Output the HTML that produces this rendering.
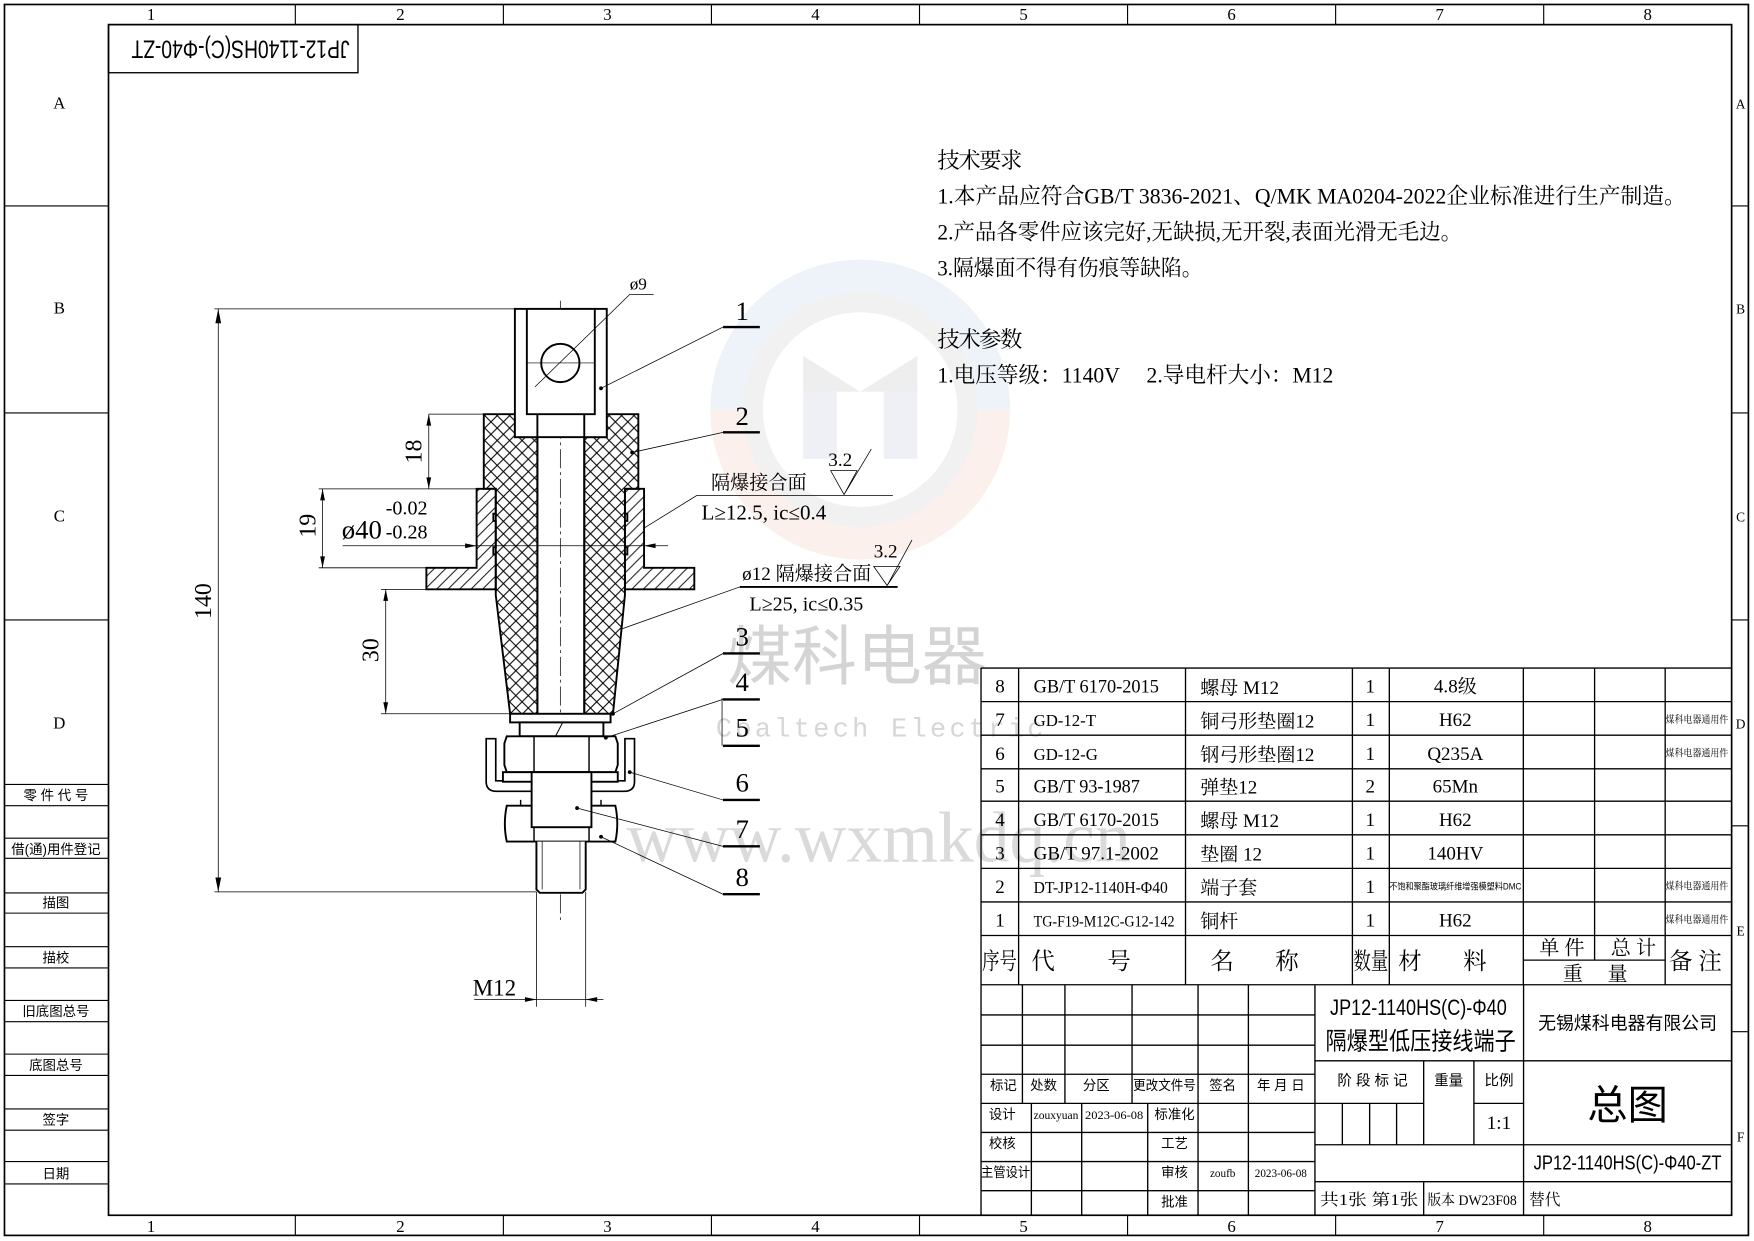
<!DOCTYPE html>
<html><head><meta charset="utf-8"><style>
html,body{margin:0;padding:0;background:#fff}
svg{display:block}
text{font-family:"Liberation Serif","Noto Serif CJK SC",serif;fill:#000}
.s{font-family:"Liberation Sans","Noto Sans CJK SC",sans-serif}
</style></head><body>
<svg width="1754" height="1241" viewBox="0 0 1568 1109" preserveAspectRatio="none" xmlns="http://www.w3.org/2000/svg">
<defs>
<pattern id="ch" patternUnits="userSpaceOnUse" width="26" height="26">
<path d="M0,0 L26,26 M26,0 L0,26" stroke="#000" stroke-width="2.2"/>
</pattern>
<pattern id="sh" patternUnits="userSpaceOnUse" width="24" height="24">
<path d="M-6,30 L30,-6 M-6,6 L6,-6 M18,30 L30,18" stroke="#000" stroke-width="2"/>
</pattern>
</defs>
<rect width="1568" height="1109" fill="#fff"/>

<!-- watermark logo -->
<g opacity="0.7">
<path d="M635,366 A134,134 0 0 1 903,366 Z" fill="#e6eef7"/>
<path d="M635,366 A134,134 0 0 0 903,366 Z" fill="#faeae3"/>
<circle cx="769" cy="366" r="96" fill="none" stroke="#ececec" stroke-width="18"/>
<circle cx="769" cy="366" r="87" fill="#fff"/>
<path d="M718,318 L769,350 L820,318 L820,350 L718,350 Z" fill="#e8e8e8"/>
<rect x="718" y="350" width="30" height="60" fill="#e9ebf2"/>
<rect x="790" y="350" width="30" height="60" fill="#e9ebf2"/>
</g>
<text x="650" y="607" font-size="58" class="s" style="fill:#d4d4d4">煤科电器</text>
<text x="640" y="658" font-size="24" style="fill:#d6d6d6;font-family:'Liberation Mono',monospace" letter-spacing="3">Coaltech Electric</text>
<text x="560" y="770" font-size="64" style="fill:#dadada">www.wxmkdq.cn</text>

<!-- frame -->
<g fill="none" stroke="#000">
<rect x="4" y="4" width="1559" height="1100" stroke-width="1.5"/>
<rect x="97" y="22" width="1451" height="1064" stroke-width="1.5"/>
<path d="M264,4V22 M450,4V22 M636,4V22 M822,4V22 M1008,4V22 M1194,4V22 M1380,4V22
M264,1086V1104 M450,1086V1104 M636,1086V1104 M822,1086V1104 M1008,1086V1104 M1194,1086V1104 M1380,1086V1104
M4,184H97 M4,369H97 M4,554H97
M1548,184H1563 M1548,369H1563 M1548,554H1563 M1548,738H1563 M1548,922H1563" stroke-width="1"/>
<path d="M4,701H97 M4,720H97 M4,749H97 M4,767H97 M4,798H97 M4,816H97 M4,846H97 M4,865H97 M4,894H97 M4,913H97 M4,942H97 M4,961H97 M4,991H97 M4,1010H97 M4,1038H97 M4,1058H97" stroke-width="1"/>
<rect x="97" y="22" width="223" height="43" stroke-width="1.2"/>
</g>
<g font-size="15" text-anchor="middle">
<text x="135" y="18">1</text><text x="358" y="18">2</text><text x="543" y="18">3</text><text x="729" y="18">4</text><text x="915" y="18">5</text><text x="1101" y="18">6</text><text x="1287" y="18">7</text><text x="1473" y="18">8</text>
<text x="135" y="1101">1</text><text x="358" y="1101">2</text><text x="543" y="1101">3</text><text x="729" y="1101">4</text><text x="915" y="1101">5</text><text x="1101" y="1101">6</text><text x="1287" y="1101">7</text><text x="1473" y="1101">8</text>
<text x="53" y="97">A</text><text x="53" y="280">B</text><text x="53" y="466">C</text><text x="53" y="651">D</text>
<text x="1556" y="97" font-size="12">A</text><text x="1556" y="280" font-size="12">B</text><text x="1556" y="466" font-size="12">C</text><text x="1556" y="651" font-size="12">D</text><text x="1556" y="836" font-size="12">E</text><text x="1556" y="1020" font-size="12">F</text>
</g>
<g font-size="12" text-anchor="middle" class="s">
<text x="50" y="715" class="s">零 件 代 号</text>
<text x="50" y="763" class="s">借(通)用件登记</text>
<text x="50" y="811" class="s">描图</text>
<text x="50" y="860" class="s">描校</text>
<text x="50" y="908" class="s">旧底图总号</text>
<text x="50" y="956" class="s">底图总号</text>
<text x="50" y="1005" class="s">签字</text>
<text x="50" y="1053" class="s">日期</text>
</g>
<text class="s" font-size="22" x="0" y="0" text-anchor="middle" textLength="195" lengthAdjust="spacingAndGlyphs" transform="translate(215,36) rotate(180)">JP12-1140HS(C)-Φ40-ZT</text>

<!-- tech text -->
<g font-size="20">
<text x="838" y="150" textLength="76">技术要求</text>
<text x="838" y="182" textLength="669" lengthAdjust="spacingAndGlyphs">1.本产品应符合GB/T 3836-2021、Q/MK MA0204-2022企业标准进行生产制造。</text>
<text x="838" y="214" textLength="469" lengthAdjust="spacingAndGlyphs">2.产品各零件应该完好,无缺损,无开裂,表面光滑无毛边。</text>
<text x="838" y="246" textLength="237" lengthAdjust="spacingAndGlyphs">3.隔爆面不得有伤痕等缺陷。</text>
<text x="838" y="310" textLength="76">技术参数</text>
<text x="838" y="342" textLength="354" lengthAdjust="spacingAndGlyphs">1.电压等级：1140V　 2.导电杆大小：M12</text>
</g>

<!-- part drawing in zoom coords -->
<g transform="translate(160.9,232.4) scale(0.4277)" fill="none" stroke="#000">
<path d="M795,85V1380" stroke-width="1.5" stroke-dasharray="40,8,6,8"/>
<path d="M635,322 L700,322 L700,370 L747,370 L747,948 L690,948 L660,700 L660,478 L635,478 Z" fill="url(#ch)" stroke-width="4"/>
<path d="M958,322 L892,322 L892,370 L845,370 L845,948 L905,948 L930,700 L930,478 L958,478 Z" fill="url(#ch)" stroke-width="4"/>
<path d="M620,478 L660,478 L660,530 L655,530 L655,545 L660,545 L660,600 L655,600 L655,615 L660,615 L660,688 L515,688 L515,643 L620,643 Z" fill="url(#sh)" stroke-width="4"/>
<path d="M970,478 L930,478 L930,530 L935,530 L935,545 L930,545 L930,600 L935,600 L935,615 L930,615 L930,688 L1075,688 L1075,643 L970,643 Z" fill="url(#sh)" stroke-width="4"/>
<rect x="700" y="102" width="192" height="268" fill="#fff" stroke-width="4"/>
<path d="M725,102V322H867V102 M747,322V370 M845,322V370" stroke-width="4"/>
<path d="M747,370V948 M845,370V948" stroke-width="4"/>
<circle cx="795" cy="215" r="40" stroke-width="4"/>
<path d="M725,215H867" stroke-width="1.2"/>
<path d="M742,265 L940,72 H990" stroke-width="1.5"/>
<rect x="690" y="948" width="210" height="18" stroke-width="4" fill="#fff"/>
<rect x="710" y="966" width="175" height="29" stroke-width="4" fill="#fff"/>
<path d="M785,995 L800,966" stroke-width="2"/>
<path d="M640,1000 V1090 Q640,1110 662,1110 H928 Q950,1110 950,1090 V1000 H930 V1088 H660 V1000 Z" stroke-width="3.5" fill="#fff"/>
<path d="M683,995 H910 L915,1010 V1055 L910,1070 H683 L678,1055 V1010 Z" stroke-width="4" fill="#fff"/>
<path d="M740,995V1070 M855,995V1070" stroke-width="3"/>
<rect x="675" y="1070" width="240" height="20" stroke-width="4" fill="#fff"/>
<path d="M683,1140 H910 Q918,1178 910,1215 H683 Q675,1178 683,1140 Z" stroke-width="4" fill="#fff"/>
<path d="M712,1128V1140 M880,1128V1140" stroke-width="3"/>
<rect x="735" y="1070" width="125" height="115" stroke-width="4" fill="#fff"/>
<path d="M740,1185V1215 M855,1185V1215" stroke-width="3"/>
<path d="M745,1215 V1315 L752,1322 H841 L848,1315 V1215" stroke-width="4" fill="#fff"/>
<path d="M757,1215V1315 M836,1215V1315" stroke-width="1.5"/>
<g stroke-width="1.6">
<path d="M72,102H700 M72,1320H745 M80,102V1320"/>
<path d="M520,322H635 M520,322V478"/>
<path d="M290,478H620 M290,643H515 M298,478V643"/>
<path d="M420,688H515 M420,948H690 M430,688V948"/>
<path d="M340,597H1020"/>
<path d="M745,1320V1560 M848,1320V1560 M615,1545H885"/>
<path d="M880,268 L1135,140 M945,402 L1135,360 M905,948 L1135,822 M890,998 L1135,918 M940,1070 L1135,1128 M830,1145 L1135,1225 M880,1205 L1135,1325"/>
<path d="M1133,915V1015"/>
<path d="M970,560 L1080,492 H1490"/>
<path d="M925,770 L1170,683"/>
<path d="M1360,440 H1415 L1388,490 Z M1388,490 L1445,395"/>
<path d="M1450,640 H1505 L1478,680 Z M1478,680 L1530,585"/>
</g>
<path d="M1170,683 H1500" stroke-width="4"/>
<path d="M1135,140H1212 M1135,360H1212 M1135,822H1212 M1135,918H1212 M1135,1015H1212 M1135,1128H1212 M1135,1225H1212 M1135,1325H1212" stroke-width="5"/>
<g fill="#000" stroke="none">
<path d="M80,102 l-6,30 h12z M80,1320 l-6,-30 h12z M520,322 l-5,24 h10z M520,478 l-5,-24 h10z M298,478 l-5,24 h10z M298,643 l-5,-24 h10z M430,688 l-5,24 h10z M430,948 l-5,-24 h10z M620,597 l-24,-5 v10z M970,597 l24,-5 v10z M745,1545 l-24,-5 v10z M848,1545 l24,-5 v10z"/>
<circle cx="880" cy="268" r="4"/><circle cx="945" cy="402" r="4"/><circle cx="890" cy="998" r="4"/><circle cx="940" cy="1070" r="4"/><circle cx="830" cy="1145" r="4"/><circle cx="880" cy="1205" r="4"/><circle cx="905" cy="948" r="4"/>
</g>
<g stroke="none" font-size="56">
<text x="1175" y="125" text-anchor="middle">1</text>
<text x="1175" y="345" text-anchor="middle">2</text>
<text x="1175" y="805" text-anchor="middle">3</text>
<text x="1175" y="900" text-anchor="middle">4</text>
<text x="1175" y="995" text-anchor="middle">5</text>
<text x="1175" y="1110" text-anchor="middle">6</text>
<text x="1175" y="1208" text-anchor="middle">7</text>
<text x="1175" y="1308" text-anchor="middle">8</text>
<text x="940" y="62" font-size="36">ø9</text>
<text font-size="50" transform="translate(505,425) rotate(-90)">18</text>
<text font-size="50" transform="translate(283,580) rotate(-90)">19</text>
<text font-size="50" transform="translate(415,840) rotate(-90)">30</text>
<text font-size="50" transform="translate(65,750) rotate(-90)">140</text>
<text x="338" y="582" font-size="56">ø40</text>
<text x="430" y="532" font-size="42">-0.02</text>
<text x="430" y="582" font-size="42">-0.28</text>
<text x="612" y="1537" font-size="48">M12</text>
<text x="1110" y="478" font-size="40">隔爆接合面</text>
<text x="1090" y="542" font-size="44">L≥12.5, ic≤0.4</text>
<text x="1355" y="430" font-size="40">3.2</text>
<text x="1175" y="668" font-size="40">ø12 隔爆接合面</text>
<text x="1190" y="732" font-size="42">L≥25, ic≤0.35</text>
<text x="1450" y="622" font-size="40">3.2</text>
</g>
</g>

<!-- parts table -->
<g fill="none" stroke="#000" stroke-width="1.2">
<path d="M877,597H1548 M877,627H1548 M877,657H1548 M877,687H1548 M877,716H1548 M877,746H1548 M877,776H1548 M877,806H1548 M877,836H1548 M877,880H1548"/>
<path d="M877,597V1086 M910.6,597V880 M1059.8,597V880 M1209,597V880 M1242,597V880 M1361.8,597V880 M1425.5,597V858 M1488.6,597V880"/>
<path d="M1361.8,858H1488.6"/>
<path d="M877,907H1175.5 M877,934H1175.5 M877,960H1175.5 M877,986H1175.5 M877,1012H1175.5 M877,1038H1175.5 M877,1064H1175.5"/>
<path d="M914,880V986 M952,880V986 M1012,880V986 M1071,880V1086 M1116,880V1086 M1175.5,880V1086"/>
<path d="M922,986V1086 M967,986V1086 M1026,986V1086"/>
<path d="M1175.5,948H1548 M1175.5,986H1272.7 M1317.6,986H1362 M1175.5,1023H1548 M1175.5,1056H1548"/>
<path d="M1200,986V1023 M1224.4,986V1023 M1248.5,986V1023 M1272.7,948V1023 M1317.6,948V1023 M1362,880V1086 M1272.7,1056V1086"/>
</g>
<g font-size="17" text-anchor="middle">
<text x="894" y="619">8</text><text x="894" y="649">7</text><text x="894" y="679">6</text><text x="894" y="708">5</text><text x="894" y="738">4</text><text x="894" y="768">3</text><text x="894" y="798">2</text><text x="894" y="828">1</text>
<text x="1225" y="619">1</text><text x="1225" y="649">1</text><text x="1225" y="679">1</text><text x="1225" y="708">2</text><text x="1225" y="738">1</text><text x="1225" y="768">1</text><text x="1225" y="798">1</text><text x="1225" y="828">1</text>
<text x="1301" y="619">4.8级</text><text x="1301" y="649">H62</text><text x="1301" y="679">Q235A</text><text x="1301" y="708">65Mn</text><text x="1301" y="738">H62</text><text x="1301" y="768">140HV</text><text x="1301" y="828">H62</text>
<text x="1301" y="795" font-size="8" class="s" textLength="118" lengthAdjust="spacingAndGlyphs">不饱和聚酯玻璃纤维增强模塑料DMC</text>
</g>
<g font-size="17">
<text x="924" y="619" textLength="112" lengthAdjust="spacingAndGlyphs">GB/T 6170-2015</text>
<text x="924" y="649" font-size="15">GD-12-T</text>
<text x="924" y="679" font-size="15">GD-12-G</text>
<text x="924" y="708" textLength="95" lengthAdjust="spacingAndGlyphs">GB/T 93-1987</text>
<text x="924" y="738" textLength="112" lengthAdjust="spacingAndGlyphs">GB/T 6170-2015</text>
<text x="924" y="768" textLength="112" lengthAdjust="spacingAndGlyphs">GB/T 97.1-2002</text>
<text x="924" y="798" font-size="15" textLength="120" lengthAdjust="spacingAndGlyphs">DT-JP12-1140H-Φ40</text>
<text x="924" y="828" font-size="14" textLength="126" lengthAdjust="spacingAndGlyphs">TG-F19-M12C-G12-142</text>
<text x="1073" y="620">螺母 M12</text>
<text x="1073" y="650">铜弓形垫圈12</text>
<text x="1073" y="680">钢弓形垫圈12</text>
<text x="1073" y="709">弹垫12</text>
<text x="1073" y="739">螺母 M12</text>
<text x="1073" y="769">垫圈 12</text>
<text x="1073" y="799">端子套</text>
<text x="1073" y="829">铜杆</text>
</g>
<g font-size="9" class="s">
<text x="1489" y="646" textLength="56" lengthAdjust="spacingAndGlyphs">煤科电器通用件</text><text x="1489" y="676" textLength="56" lengthAdjust="spacingAndGlyphs">煤科电器通用件</text><text x="1489" y="795" textLength="56" lengthAdjust="spacingAndGlyphs">煤科电器通用件</text><text x="1489" y="825" textLength="56" lengthAdjust="spacingAndGlyphs">煤科电器通用件</text>
</g>
<g font-size="21">
<text x="878" y="866" textLength="31" lengthAdjust="spacingAndGlyphs">序号</text><text x="922" y="866">代</text><text x="990" y="866">号</text>
<text x="1082" y="866">名</text><text x="1140" y="866">称</text>
<text x="1210" y="866" textLength="31" lengthAdjust="spacingAndGlyphs">数量</text><text x="1250" y="866">材</text><text x="1308" y="866">料</text>
<text x="1492" y="866">备 注</text>
<text x="1376" y="853" font-size="18">单 件</text><text x="1440" y="853" font-size="18">总 计</text>
<text x="1397" y="876" font-size="18">重</text><text x="1437" y="876" font-size="18">量</text>
</g>
<g font-size="12" text-anchor="middle" class="s">
<text x="897" y="974" class="s">标记</text><text x="933" y="974" class="s">处数</text><text x="980" y="974" class="s">分区</text><text x="1041" y="974" class="s" textLength="56" lengthAdjust="spacingAndGlyphs">更改文件号</text><text x="1093" y="974" class="s">签名</text><text x="1145" y="974" class="s">年 月 日</text>
<text x="896" y="1000" class="s">设计</text><text x="944" y="1000" font-size="10" style="font-family:'Liberation Serif',serif" textLength="40" lengthAdjust="spacingAndGlyphs">zouxyuan</text><text x="996" y="1000" font-size="10" style="font-family:'Liberation Serif',serif" textLength="52" lengthAdjust="spacingAndGlyphs">2023-06-08</text><text x="1050" y="1000" class="s">标准化</text>
<text x="896" y="1026" class="s">校核</text><text x="1050" y="1026" class="s">工艺</text>
<text x="899" y="1052" class="s" textLength="44" lengthAdjust="spacingAndGlyphs">主管设计</text><text x="1050" y="1052" class="s">审核</text><text x="1093" y="1052" font-size="10" style="font-family:'Liberation Serif',serif">zoufb</text><text x="1145" y="1052" font-size="10" style="font-family:'Liberation Serif',serif">2023-06-08</text>
<text x="1050" y="1078" class="s">批准</text>
<text x="1227" y="970" font-size="13" class="s">阶 段 标 记</text><text x="1295" y="970" font-size="13" class="s">重量</text><text x="1340" y="970" font-size="13" class="s">比例</text>
</g>
<text x="1340" y="1009" font-size="17" text-anchor="middle">1:1</text>
<text x="1268" y="907" font-size="20" text-anchor="middle" class="s" textLength="158" lengthAdjust="spacingAndGlyphs">JP12-1140HS(C)-Φ40</text>
<text x="1270" y="938" font-size="22" text-anchor="middle" class="s" textLength="170" lengthAdjust="spacingAndGlyphs">隔爆型低压接线端子</text>
<text x="1455" y="920" font-size="16" text-anchor="middle" class="s">无锡煤科电器有限公司</text>
<text x="1455" y="1000" font-size="36" text-anchor="middle" class="s">总图</text>
<text x="1455" y="1045" font-size="18" text-anchor="middle" class="s" textLength="168" lengthAdjust="spacingAndGlyphs">JP12-1140HS(C)-Φ40-ZT</text>
<text x="1180" y="1077" font-size="14" textLength="88" lengthAdjust="spacingAndGlyphs">共1张  第1张</text>
<text x="1276" y="1077" font-size="13" textLength="80" lengthAdjust="spacingAndGlyphs">版本 DW23F08</text>
<text x="1367" y="1077" font-size="14">替代</text>
</svg>
</body></html>
